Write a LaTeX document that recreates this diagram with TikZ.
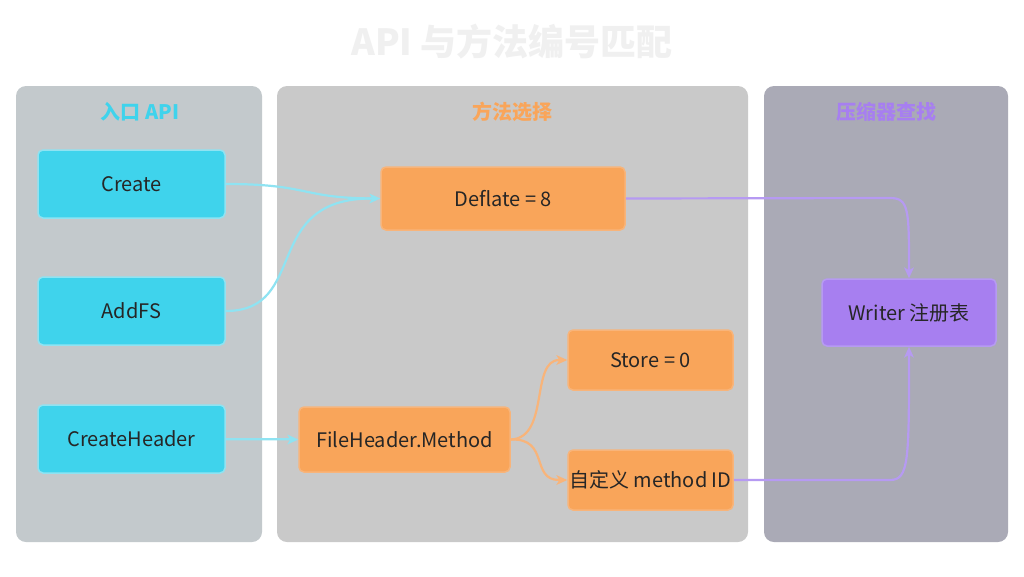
\documentclass[tikz,border=0pt]{standalone}
\usepackage{fontspec}
\setmainfont{Noto Sans CJK SC}
\definecolor{cyanF}{HTML}{3FD3EC}
\definecolor{cyanL}{HTML}{8FE3F2}
\definecolor{orF}{HTML}{F9A55A}
\definecolor{orL}{HTML}{F8B47A}
\definecolor{puF}{HTML}{A77FF0}
\definecolor{puL}{HTML}{B69AF2}
\tikzset{
 panel/.style={rounded corners=10pt,draw=none},
 box/.style={rounded corners=5pt,line width=1.5pt,font=\fontsize{20}{23}\selectfont,text=black!85,inner sep=0pt},
 cy/.style={box,fill=cyanF,draw=cyanL},
 orb/.style={box,fill=orF,draw=orL},
 pu/.style={box,fill=puF,draw=puL},
 ttl/.style={font=\fontsize{20}{24}\selectfont\bfseries},
 conn/.style={line width=2.2pt,shorten >=8pt},
 ca/.style={conn,draw=cyanL},
 oa/.style={conn,draw=orL},
 pa/.style={conn,draw=puL}}
\newcommand\tipat[3]{\fill[#2,shift={(#1)},rotate=#3] (0,0) -- (-11,5) -- (-8,0) -- (-11,-5) -- cycle;}
\begin{document}
\begin{tikzpicture}[x=1pt,y=1pt]
\useasboundingbox (0,0) rectangle (1024,-576);
\fill[white] (0,0) rectangle (1024,-576);
\node[font=\fontsize{36}{40}\selectfont\bfseries,text=black!6] (title) at (512,-42) {API 与方法编号匹配};
\fill[panel,fill=cyan!10!gray!50] (16,-86) rectangle (262,-542);
\fill[panel,fill=gray!42] (277,-86) rectangle (748,-542);
\fill[panel,fill=blue!8!gray!62] (764,-86) rectangle (1008,-542);
\node[ttl,text=cyanF] (t1) at (140,-112) {入口 API};
\node[ttl,text=orF] (t2) at (512,-112) {方法选择};
\node[ttl,text=puF] (t3) at (886,-112) {压缩器查找};
\node[cy,minimum width=187pt,minimum height=68pt] (create) at (131.5,-184) {Create};
\node[cy,minimum width=187pt,minimum height=68pt] (addfs) at (131.5,-311) {AddFS};
\node[cy,minimum width=187pt,minimum height=68pt] (ch) at (131.5,-439) {CreateHeader};
\node[orb,minimum width=244pt,minimum height=63pt] (def) at (503,-198.5) {Deflate = 8};
\node[orb,minimum width=211pt,minimum height=65pt] (fh) at (404.5,-439.5) {FileHeader.Method};
\node[orb,minimum width=165pt,minimum height=60pt] (st) at (650.5,-360) {Store = 0};
\node[orb,minimum width=165pt,minimum height=60pt] (cu) at (650.5,-480) {自定义 method ID};
\node[pu,minimum width=174pt,minimum height=67pt] (wr) at (909,-312.5) {Writer 注册表};
\draw[ca] (create.east) .. controls (310,-184) and (300,-198) .. (def.west);
\draw[ca] (addfs.east) .. controls (310,-311) and (260,-198) .. (def.west);
\tipat{def.west}{cyanL}{0}
\draw[ca] (ch) -- (fh);
\tipat{fh.west}{cyanL}{0}
\draw[oa] (fh.east) .. controls (550,-438) and (530,-360) .. (st.west);
\tipat{st.west}{orL}{0}
\draw[oa] (fh.east) .. controls (550,-438) and (530,-480) .. (cu.west);
\tipat{cu.west}{orL}{0}
\draw[pa] (def.east) -- (890,-198) .. controls (909,-198) and (909,-210) .. (wr.north);
\tipat{wr.north}{puL}{-90}
\draw[pa] (cu.east) -- (890,-480) .. controls (909,-480) and (909,-460) .. (wr.south);
\tipat{wr.south}{puL}{90}
\end{tikzpicture}
\end{document}
